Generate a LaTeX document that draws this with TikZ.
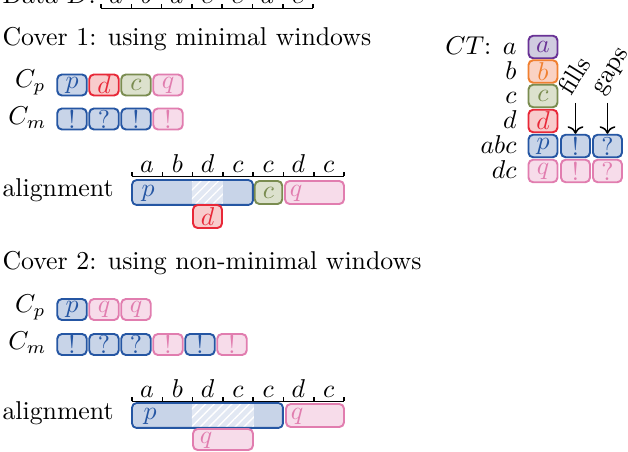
\documentclass[tikz,border=0pt]{standalone}
\usetikzlibrary{arrows.meta,patterns.meta}
\definecolor{cB}{HTML}{2556A3}\definecolor{cBf}{HTML}{C8D4E8}
\definecolor{cR}{HTML}{E82838}\definecolor{cRf}{HTML}{F8CCCC}
\definecolor{cG}{HTML}{7A8C50}\definecolor{cGf}{HTML}{DCE1CD}
\definecolor{cP}{HTML}{E17DAF}\definecolor{cPf}{HTML}{F7DCEA}
\definecolor{cV}{HTML}{693296}\definecolor{cVf}{HTML}{D0CCE0}
\definecolor{cO}{HTML}{F08030}\definecolor{cOf}{HTML}{FAD2C3}
\definecolor{cH}{HTML}{E2E8F3}
\begin{document}
\begin{tikzpicture}[x=0.3876pt,y=-0.3876pt,
  cellbase/.style={rounded corners=1.8pt, line width=0.75pt, inner sep=0pt},
  cpm/.style={cellbase, minimum width=29.5*0.3876pt, minimum height=21*0.3876pt},
  ctc/.style={cellbase, minimum width=29*0.3876pt, minimum height=22.5*0.3876pt},
  bar/.style={cellbase, minimum height=23*0.3876pt},
  blu/.style={draw=cB, fill=cBf, text=cB},
  red/.style={draw=cR, fill=cRf, text=cR},
  grn/.style={draw=cG, fill=cGf, text=cG},
  pnk/.style={draw=cP, fill=cPf, text=cP},
  vio/.style={draw=cV, fill=cVf, text=cV},
  org/.style={draw=cO, fill=cOf, text=cO},
  ruler/.style={line width=0.6pt},
  hatch/.style={fill=cH, postaction={pattern={Lines[angle=45,distance=2.4pt,line width=0.5pt]}, pattern color=white}},
  lbl/.style={inner sep=0pt, anchor=base west},
  rlbl/.style={inner sep=0pt, anchor=base east},
  arr/.style={-{Computer Modern Rightarrow}, line width=0.6pt}
]
\useasboundingbox (0,0) rectangle (628,452);

% ---- Data row
\node[lbl] (data) at (2,4) {Data $D$:};
\draw[ruler] (101,8.5) -- (313,8.5);
\foreach \i in {0,...,7} \draw[ruler] ({101+30.29*\i},8.5) -- ({101+30.29*\i},4);
\foreach \l [count=\i from 0] in {a,b,d,c,c,d,c}
  \node[inner sep=0pt, anchor=base] (d\i) at ({116+30.29*\i},3.5) {$\l$};

% ---- Cover 1
\node[lbl] (cov1) at (2,46) {Cover 1: using minimal windows};
\node[rlbl] (cp1) at (46,88) {$C_p$};
\node[rlbl] (cm1) at (47,125) {$C_m$};
\node[cpm,blu] (a1) at (72,85) {$p$};
\node[cpm,red] (a2) at (104,85) {$d$};
\node[cpm,grn] (a3) at (136,85) {$c$};
\node[cpm,pnk] (a4) at (168,85) {$q$};
\node[cpm,blu] (b1) at (72,119) {!};
\node[cpm,blu] (b2) at (104,119) {?};
\node[cpm,blu] (b3) at (136,119) {!};
\node[cpm,pnk] (b4) at (168,119) {!};

\node[lbl] (al1) at (2,197) {alignment};
\draw[ruler] (132,176.5) -- (344,176.5);
\foreach \i in {0,...,7} \draw[ruler] ({132+30.29*\i},176.5) -- ({132+30.29*\i},172.5);
\foreach \l [count=\i from 0] in {a,b,d,c,c,d,c}
  \node[inner sep=0pt, anchor=base] (r\i) at ({147+30.29*\i},173) {$\l$};
\node[bar, fill=cBf, minimum width=119*0.3876pt] (p1) at (192.5,192.5) {};
\fill[hatch] (192,181.2) rectangle (223,203.8);
\draw[cellbase, draw=cB] (p1.north west) rectangle (p1.south east);
\node[text=cB] (p1l) at (148,193.5) {$p$};
\node[bar,grn, minimum width=27.5*0.3876pt] (c1) at (268.5,192.5) {$c$};
\node[bar,pnk, minimum width=59*0.3876pt] (q1) at (314.5,192.5) {};
\node[text=cP] (q1l) at (296,193.5) {$q$};
\node[bar,red, minimum width=29*0.3876pt] (dd1) at (207.5,216.5) {$d$};

% ---- Cover 2
\node[lbl] (cov2) at (2,270) {Cover 2: using non-minimal windows};
\node[rlbl] (cp2) at (46,313) {$C_p$};
\node[rlbl] (cm2) at (47,350) {$C_m$};
\node[cpm,blu] (e1) at (72,309.5) {$p$};
\node[cpm,pnk] (e2) at (104,309.5) {$q$};
\node[cpm,pnk] (e3) at (136,309.5) {$q$};
\node[cpm,blu] (f1) at (72,344.5) {!};
\node[cpm,blu] (f2) at (104,344.5) {?};
\node[cpm,blu] (f3) at (136,344.5) {?};
\node[cpm,pnk] (f4) at (168,344.5) {!};
\node[cpm,blu] (f5) at (200,344.5) {!};
\node[cpm,pnk] (f6) at (232,344.5) {!};

\node[lbl] (al2) at (2,420) {alignment};
\draw[ruler] (132,401.5) -- (344,401.5);
\foreach \i in {0,...,7} \draw[ruler] ({132+30.29*\i},401.5) -- ({132+30.29*\i},397.5);
\foreach \l [count=\i from 0] in {a,b,d,c,c,d,c}
  \node[inner sep=0pt, anchor=base] (s\i) at ({147+30.29*\i},397.5) {$\l$};
\node[bar, fill=cBf, minimum width=149*0.3876pt] (p2) at (207.5,415.5) {};
\fill[hatch] (192,404.2) rectangle (254,426.8);
\draw[cellbase, draw=cB] (p2.north west) rectangle (p2.south east);
\node[text=cB] (p2l) at (150,416.5) {$p$};
\node[bar,pnk, minimum width=58*0.3876pt] (q2) at (315,415.5) {};
\node[text=cP] (q2l) at (297,416.5) {$q$};
\node[bar,pnk, minimum width=60*0.3876pt, minimum height=21*0.3876pt] (qq2) at (223,439.5) {};
\node[text=cP] (qq2l) at (206,440.5) {$q$};

% ---- Code table
\node[rlbl] (ta) at (517,55) {$CT$: $a$};
\node[rlbl] (tb) at (517,79.5) {$b$};
\node[rlbl] (tc) at (517,104) {$c$};
\node[rlbl] (td) at (517,129) {$d$};
\node[rlbl] (tabc) at (517,154) {$abc$};
\node[rlbl] (tdc) at (517,179) {$dc$};
\node[ctc,vio] (ca) at (543,47) {$a$};
\node[ctc,org] (cb) at (543,71.5) {$b$};
\node[ctc,grn] (cc) at (543,96) {$c$};
\node[ctc,red] (cd) at (543,121) {$d$};
\node[ctc,blu] (cabc1) at (543,146) {$p$};
\node[ctc,blu] (cabc2) at (575.5,146) {!};
\node[ctc,blu] (cabc3) at (607.5,146) {?};
\node[ctc,pnk] (cdc1) at (543,171) {$q$};
\node[ctc,pnk] (cdc2) at (575.5,171) {!};
\node[ctc,pnk] (cdc3) at (607.5,171) {?};

\node[rotate=58, lbl] (fills) at (571,97) {fills};
\node[rotate=58, lbl] (gaps) at (602,96) {gaps};
\coordinate (fa) at (575.5,103);
\coordinate (ga) at (607.5,103);
\draw[arr] (fa) -- (cabc2.north);
\draw[arr] (ga) -- (cabc3.north);
\end{tikzpicture}
\end{document}
